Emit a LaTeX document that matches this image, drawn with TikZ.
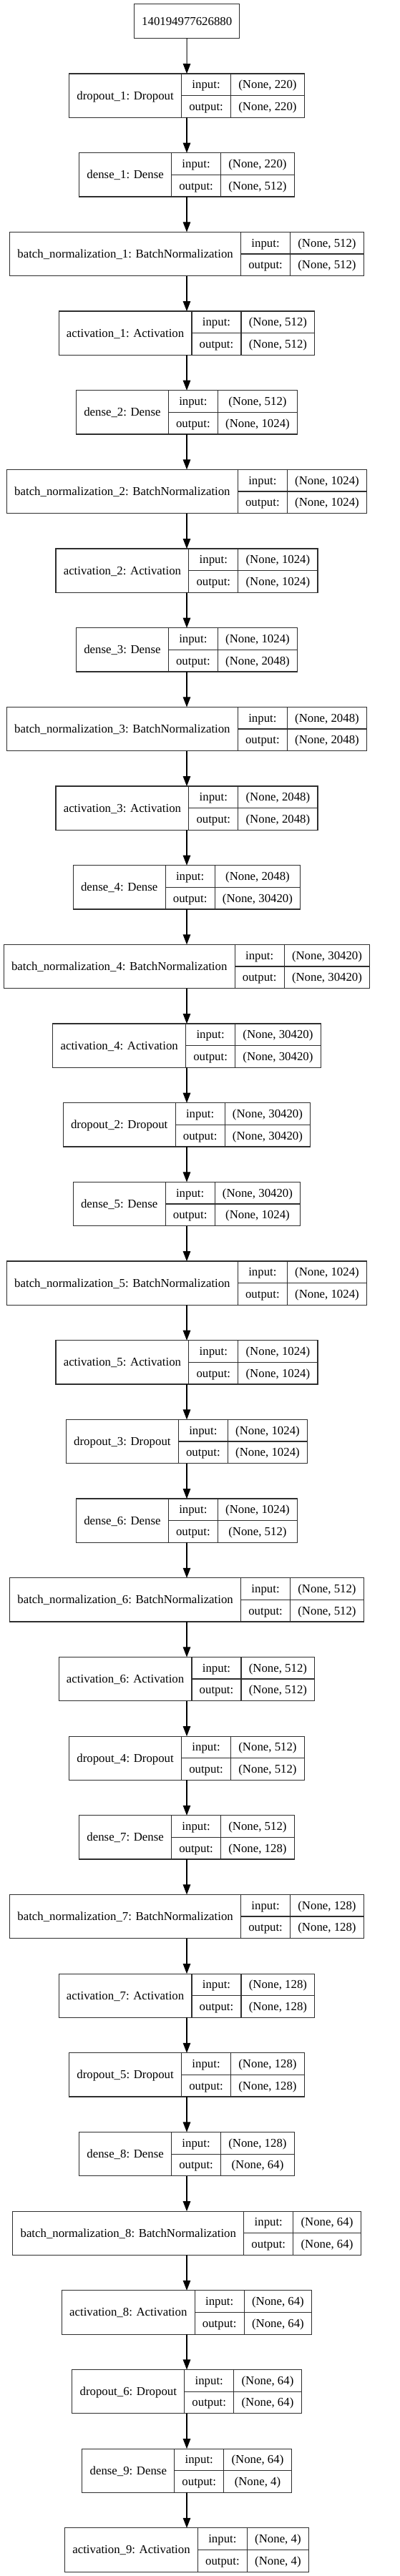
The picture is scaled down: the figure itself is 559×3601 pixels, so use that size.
\documentclass[tikz,border=0pt]{standalone}
\usepackage{fontspec}
\setmainfont{Liberation Serif}
\usetikzlibrary{arrows.meta}
\definecolor{edgec}{rgb}{0.18,0.18,0.18}
\newcommand\lfont{\fontsize{16.8}{20}\selectfont}
\newlength\lwA \newlength\lwB \newlength\lwC \newlength\lwD
\tikzset{
  boxn/.style={draw=edgec, line width=1.2pt, inner sep=0pt, outer sep=0pt, minimum height=61.3pt, anchor=north west},
  cellline/.style={draw=edgec, line width=1.2pt},
  txt/.style={inner sep=0pt, anchor=base, font=\lfont},
  arr/.style={draw=black, line width=1.1pt, -{Triangle[length=14pt,width=10.5pt]}},
}
\newcommand\layer[4]{%
  \pgfinterruptpicture
  \global\setbox1=\hbox{\lfont #2}\global\lwA=\wd1
  \global\setbox1=\hbox{\lfont output:}\global\lwB=\wd1
  \global\setbox1=\hbox{\lfont #3}\global\lwC=\wd1
  \global\setbox1=\hbox{\lfont #4}\global\lwD=\wd1
  \endpgfinterruptpicture
  \ifdim\lwD>\lwC \lwC=\lwD\fi
  \pgfmathsetmacro\LWa{\lwA+21.6}%
  \pgfmathsetmacro\LWb{\lwB+21.4}%
  \pgfmathsetmacro\LWc{\lwC+21.6}%
  \pgfmathsetmacro\LW{\LWa+\LWb+\LWc}%
  \pgfmathsetmacro\LX{261-\LW/2}%
  \pgfmathsetmacro\LY{103+(#1-1)*110.67}%
  \node[boxn, minimum width=\LW pt] (L#1) at (\LX,\LY) {};
  \draw[cellline] (\LX+\LWa,\LY) -- ++(0,61.3);
  \draw[cellline] (\LX+\LWa+\LWb,\LY) -- ++(0,61.3);
  \draw[cellline] (\LX+\LWa,\LY+30.65) -- (\LX+\LW,\LY+30.65);
  \node[txt] (L#1n) at (\LX+\LWa/2,\LY+30.65+5.4) {#2};
  \node[txt] (L#1i) at (\LX+\LWa+\LWb/2,\LY+15.3+5.4) {input:};
  \node[txt] (L#1o) at (\LX+\LWa+\LWb/2,\LY+46+5.4) {output:};
  \node[txt] (L#1a) at (\LX+\LWa+\LWb+\LWc/2,\LY+15.3+5.4) {#3};
  \node[txt] (L#1b) at (\LX+\LWa+\LWb+\LWc/2,\LY+46+5.4) {#4};
}
\begin{document}
\begin{tikzpicture}[x=1pt,y=-1pt]
\useasboundingbox (0,0) rectangle (559,3601);
\node[draw=edgec, line width=1.2pt, inner sep=0pt, outer sep=0pt, minimum width=147pt, minimum height=48pt] (T) at (261.2,29.7) {};
\node[txt] (Tt) at (261.2,35.1) {140194977626880};
\layer{1}{dropout\_1: Dropout}{(None, 220)}{(None, 220)}
\layer{2}{dense\_1: Dense}{(None, 220)}{(None, 512)}
\layer{3}{batch\_normalization\_1: BatchNormalization}{(None, 512)}{(None, 512)}
\layer{4}{activation\_1: Activation}{(None, 512)}{(None, 512)}
\layer{5}{dense\_2: Dense}{(None, 512)}{(None, 1024)}
\layer{6}{batch\_normalization\_2: BatchNormalization}{(None, 1024)}{(None, 1024)}
\layer{7}{activation\_2: Activation}{(None, 1024)}{(None, 1024)}
\layer{8}{dense\_3: Dense}{(None, 1024)}{(None, 2048)}
\layer{9}{batch\_normalization\_3: BatchNormalization}{(None, 2048)}{(None, 2048)}
\layer{10}{activation\_3: Activation}{(None, 2048)}{(None, 2048)}
\layer{11}{dense\_4: Dense}{(None, 2048)}{(None, 30420)}
\layer{12}{batch\_normalization\_4: BatchNormalization}{(None, 30420)}{(None, 30420)}
\layer{13}{activation\_4: Activation}{(None, 30420)}{(None, 30420)}
\layer{14}{dropout\_2: Dropout}{(None, 30420)}{(None, 30420)}
\layer{15}{dense\_5: Dense}{(None, 30420)}{(None, 1024)}
\layer{16}{batch\_normalization\_5: BatchNormalization}{(None, 1024)}{(None, 1024)}
\layer{17}{activation\_5: Activation}{(None, 1024)}{(None, 1024)}
\layer{18}{dropout\_3: Dropout}{(None, 1024)}{(None, 1024)}
\layer{19}{dense\_6: Dense}{(None, 1024)}{(None, 512)}
\layer{20}{batch\_normalization\_6: BatchNormalization}{(None, 512)}{(None, 512)}
\layer{21}{activation\_6: Activation}{(None, 512)}{(None, 512)}
\layer{22}{dropout\_4: Dropout}{(None, 512)}{(None, 512)}
\layer{23}{dense\_7: Dense}{(None, 512)}{(None, 128)}
\layer{24}{batch\_normalization\_7: BatchNormalization}{(None, 128)}{(None, 128)}
\layer{25}{activation\_7: Activation}{(None, 128)}{(None, 128)}
\layer{26}{dropout\_5: Dropout}{(None, 128)}{(None, 128)}
\layer{27}{dense\_8: Dense}{(None, 128)}{(None, 64)}
\layer{28}{batch\_normalization\_8: BatchNormalization}{(None, 64)}{(None, 64)}
\layer{29}{activation\_8: Activation}{(None, 64)}{(None, 64)}
\layer{30}{dropout\_6: Dropout}{(None, 64)}{(None, 64)}
\layer{31}{dense\_9: Dense}{(None, 64)}{(None, 4)}
\layer{32}{activation\_9: Activation}{(None, 4)}{(None, 4)}
\draw[arr] (T.south) -- (L1.north);
\foreach \i [evaluate=\i as \j using int(\i+1)] in {1,...,31} {
  \draw[arr] (L\i.south) -- (L\j.north);
}
\end{tikzpicture}
\end{document}
